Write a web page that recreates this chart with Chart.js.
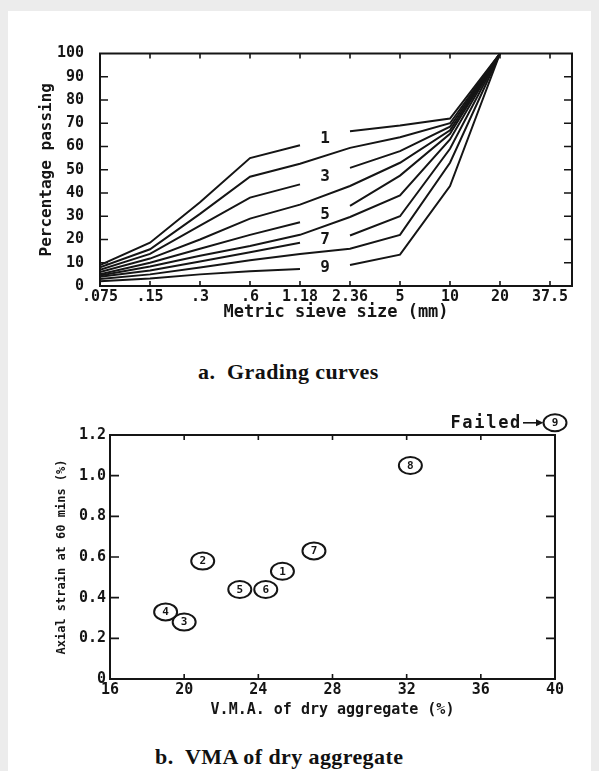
<!DOCTYPE html>
<html>
<head>
<meta charset="utf-8">
<title>Grading curves and VMA of dry aggregate</title>
<script src="https://cdn.jsdelivr.net/npm/chart.js@4.4.1/dist/chart.umd.min.js"></script>
<style>
  html, body { margin: 0; padding: 0; }
  body { width: 599px; height: 771px; background: #ececec; position: relative; overflow: hidden; }
  #page { position: absolute; left: 8px; top: 11px; width: 583px; height: 760px; background: #fff; }
  canvas { position: absolute; }
  #grading { left: 20px; top: 30px; }
  #vma { left: 20px; top: 400px; }
  .caption { position: absolute; font: bold 22px "Liberation Serif", "Times New Roman", serif; letter-spacing: 0.4px; color: #111; white-space: pre; }
</style>
</head>
<body>
<div id="page"></div>
<canvas id="grading" width="570" height="300"></canvas>
<canvas id="vma" width="570" height="330"></canvas>
<div class="caption" style="left:198px; top:359px;">a.  Grading curves</div>
<div class="caption" style="left:155px; top:744px;">b.  VMA of dry aggregate</div>

<script>
// --- grading curves (percentage passing per sieve) ---
const sieveLabels = [".075", ".15", ".3", ".6", "1.18", "2.36", "5", "10", "20", "37.5"];
const curve1 = [9, 18.6, 36, 55, 60.5, 66.6, 69, 72, 100];
const curve2 = [8, 15.8, 31, 47, 52.6, 59.4, 64, 70, 100];
const curve3 = [7, 13.8, 26, 38, 43.7, 50.8, 58, 68.5, 100];
const curve4 = [6, 11.8, 20, 29, 35, 43, 53, 67, 100];
const curve5 = [5, 10, 16, 22, 27.4, 34.5, 47.5, 65.5, 100];
const curve6 = [4.5, 8.4, 13, 17.2, 22, 29.7, 39, 63, 100];
const curve7 = [4, 6.7, 10.5, 14.5, 18.6, 21.7, 30, 59, 100];
const curve8 = [3, 5, 8, 11.1, 13.8, 16, 22, 53, 100];
const curve9 = [2, 3.2, 5, 6.3, 7.3, 9, 13.5, 43, 100];
const curveNames = ["1", "2", "3", "4", "5", "6", "7", "8", "9"];
const labelledCurves = ["1", "3", "5", "7", "9"];
const passingTicks = [0, 10, 20, 30, 40, 50, 60, 70, 80, 90, 100];

// --- VMA vs axial strain ---
const mixNumbers = ["1", "2", "3", "4", "5", "6", "7", "8", "9"];
const vmaValues = [25.3, 21.0, 20.0, 19.0, 23.0, 24.4, 27.0, 32.2, 40.0];
const strainValues = [0.53, 0.58, 0.28, 0.33, 0.44, 0.44, 0.63, 1.05, 1.26];
const failedMix = "9";
const vmaTicks = [16, 20, 24, 28, 32, 36, 40];
const strainTicks = [0, 0.2, 0.4, 0.6, 0.8, 1.0, 1.2];
const strainTickLabels = ["0", "0.2", "0.4", "0.6", "0.8", "1.0", "1.2"];

const INK = "#151515";
const MONO = "'DejaVu Sans Mono', 'Liberation Mono', monospace";
const GAP_FROM = 4; // segment 1.18 -> 2.36 left open for the curve number

// box around the plot with inward tick marks on all four sides
const framePlugin = {
  id: "frame",
  afterDraw(chart, args, opts) {
    const { ctx, chartArea: a, scales } = chart;
    ctx.save();
    ctx.strokeStyle = INK;
    ctx.lineWidth = 2;
    ctx.strokeRect(a.left, a.top, a.right - a.left, a.bottom - a.top);
    ctx.lineWidth = 1.6;
    ctx.beginPath();
    scales.x.ticks.forEach(t => {
      const px = scales.x.getPixelForValue(t.value);
      if (px <= a.left + 1 || px >= a.right - 1) return;
      ctx.moveTo(px, a.bottom); ctx.lineTo(px, a.bottom - opts.xTick);
      ctx.moveTo(px, a.top); ctx.lineTo(px, a.top + opts.xTick);
    });
    scales.y.ticks.forEach(t => {
      const py = scales.y.getPixelForValue(t.value);
      if (py <= a.top + 1 || py >= a.bottom - 1) return;
      ctx.moveTo(a.left, py); ctx.lineTo(a.left + opts.yTick, py);
      ctx.moveTo(a.right, py); ctx.lineTo(a.right - opts.yTick, py);
    });
    ctx.stroke();
    ctx.restore();
  }
};

// curve numbers written in the gap of the labelled curves
const curveLabelPlugin = {
  id: "curveLabels",
  afterDatasetsDraw(chart) {
    const { ctx } = chart;
    ctx.save();
    ctx.font = `bold 16px ${MONO}`;
    ctx.fillStyle = INK;
    ctx.textAlign = "center";
    ctx.textBaseline = "middle";
    chart.data.datasets.forEach((ds, i) => {
      if (!labelledCurves.includes(ds.label)) return;
      const pts = chart.getDatasetMeta(i).data;
      const p0 = pts[GAP_FROM], p1 = pts[GAP_FROM + 1];
      ctx.fillText(ds.label, (p0.x + p1.x) / 2, (p0.y + p1.y) / 2 + 1);
    });
    ctx.restore();
  }
};

// circled mix numbers, plus the "Failed" note
const circledPlugin = {
  id: "circled",
  afterDatasetsDraw(chart) {
    const { ctx } = chart;
    const pts = chart.getDatasetMeta(0).data;
    ctx.save();
    ctx.strokeStyle = INK;
    ctx.fillStyle = INK;
    ctx.lineWidth = 2;
    pts.forEach((p, i) => {
      ctx.beginPath();
      ctx.ellipse(p.x, p.y, 11.5, 8.5, 0, 0, Math.PI * 2);
      ctx.stroke();
      ctx.font = `bold 11px ${MONO}`;
      ctx.textAlign = "center";
      ctx.textBaseline = "middle";
      ctx.fillText(mixNumbers[i], p.x, p.y + 0.5);
      if (mixNumbers[i] === failedMix) {
        ctx.font = `bold 17px ${MONO}`;
        if ("letterSpacing" in ctx) ctx.letterSpacing = "1.7px";
        ctx.textAlign = "right";
        ctx.fillText("Failed", p.x - 33, p.y + 1);
        if ("letterSpacing" in ctx) ctx.letterSpacing = "0px";
        ctx.beginPath();
        ctx.lineWidth = 1.6;
        ctx.moveTo(p.x - 32, p.y);
        ctx.lineTo(p.x - 17, p.y);
        ctx.stroke();
        ctx.beginPath();
        ctx.moveTo(p.x - 11.5, p.y);
        ctx.lineTo(p.x - 19, p.y - 3.5);
        ctx.lineTo(p.x - 19, p.y + 3.5);
        ctx.closePath();
        ctx.fill();
        ctx.lineWidth = 2;
      }
    });
    ctx.restore();
  }
};

Chart.defaults.animation = false;
Chart.defaults.color = INK;
Chart.defaults.font.family = MONO;

const curves = [curve1, curve2, curve3, curve4, curve5, curve6, curve7, curve8, curve9];

new Chart(document.getElementById("grading"), {
  type: "line",
  data: {
    datasets: curves.map((values, ci) => {
      const name = curveNames[ci];
      const gapped = labelledCurves.includes(name);
      return {
        label: name,
        data: values.map((v, i) => ({ x: i, y: v })),
        borderColor: INK,
        borderWidth: 2,
        tension: 0,
        pointRadius: 0,
        fill: false,
        segment: {
          borderColor: c => (gapped && c.p0DataIndex === GAP_FROM ? "rgba(0,0,0,0)" : INK)
        }
      };
    })
  },
  options: {
    responsive: false,
    devicePixelRatio: 1,
    layout: { padding: { top: 11, right: 18, left: 0, bottom: 0 } },
    plugins: { legend: { display: false }, tooltip: { enabled: false }, frame: { xTick: 5, yTick: 8 } },
    scales: {
      x: {
        type: "linear",
        min: 0,
        max: 9.44,
        grid: { display: false, drawTicks: false },
        border: { display: false },
        afterBuildTicks: s => { s.ticks = sieveLabels.map((_, i) => ({ value: i })); },
        afterFit: s => { s.height = 44; },
        ticks: {
          autoSkip: false,
          maxRotation: 0,
          padding: 4,
          font: { size: 15, weight: "bold", lineHeight: 1 },
          callback: v => sieveLabels[v]
        },
        title: {
          display: true,
          text: "Metric sieve size (mm)",
          font: { size: 17, weight: "bold", lineHeight: 1 },
          padding: { top: 0, bottom: 8.5 }
        }
      },
      y: {
        min: 0,
        max: 100,
        grid: { display: false, drawTicks: false },
        border: { display: false },
        afterBuildTicks: s => { s.ticks = passingTicks.map(v => ({ value: v })); },
        afterFit: s => { s.width = 80; },
        ticks: { padding: 16, font: { size: 15, weight: "bold", lineHeight: 1 } },
        title: {
          display: true,
          text: "Percentage passing",
          font: { size: 16, weight: "bold", lineHeight: 1 },
          padding: { top: 19, bottom: 0 }
        }
      }
    }
  },
  plugins: [framePlugin, curveLabelPlugin]
});

new Chart(document.getElementById("vma"), {
  type: "scatter",
  data: {
    datasets: [{
      label: "Mixes",
      data: vmaValues.map((x, i) => ({ x, y: strainValues[i] })),
      pointRadius: 0,
      pointHoverRadius: 0,
      clip: false
    }]
  },
  options: {
    responsive: false,
    devicePixelRatio: 1,
    layout: { padding: { top: 35, right: 35, left: 0, bottom: 0 } },
    plugins: { legend: { display: false }, tooltip: { enabled: false }, frame: { xTick: 5, yTick: 9 } },
    scales: {
      x: {
        type: "linear",
        min: 16,
        max: 40,
        grid: { display: false, drawTicks: false },
        border: { display: false },
        afterBuildTicks: s => { s.ticks = vmaTicks.map(v => ({ value: v })); },
        afterFit: s => { s.height = 51; },
        ticks: { autoSkip: false, maxRotation: 0, padding: 4, font: { size: 15, weight: "bold", lineHeight: 1 } },
        title: {
          display: true,
          text: "V.M.A. of dry aggregate (%)",
          font: { size: 15, weight: "bold", lineHeight: 1 },
          padding: { top: 0, bottom: 12.5 }
        }
      },
      y: {
        min: 0,
        max: 1.2,
        grid: { display: false, drawTicks: false },
        border: { display: false },
        afterBuildTicks: s => { s.ticks = strainTicks.map(v => ({ value: v })); },
        afterFit: s => { s.width = 90; },
        ticks: {
          padding: 4,
          font: { size: 15, weight: "bold", lineHeight: 1 },
          callback: (v, i) => strainTickLabels[i]
        },
        title: {
          display: true,
          text: "Axial strain at 60 mins (%)",
          font: { size: 12, weight: "bold", lineHeight: 1 },
          padding: { top: 36, bottom: 0 }
        }
      }
    }
  },
  plugins: [framePlugin, circledPlugin]
});
</script>
</body>
</html>
